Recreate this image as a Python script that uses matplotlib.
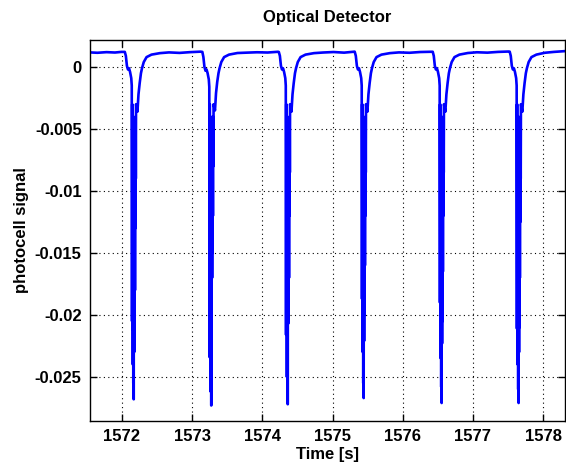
import matplotlib
matplotlib.use("Agg")
import matplotlib.pyplot as plt

# ---- data ----
lead_times = [1571.54, 1571.65, 1571.78, 1571.90, 1571.99]
lead_values = [0.00118, 0.00115, 0.00120, 0.00117, 0.00122]

pulse_centers = [1572.170, 1573.275, 1574.365, 1575.447, 1576.558, 1577.655]

pulse_offsets = [-0.13, -0.115, -0.10, -0.085, -0.07, -0.055, -0.038, -0.031,
                 -0.027, -0.024, -0.021, -0.018, -0.015, -0.012, -0.009, -0.006,
                 -0.003, 0.000, 0.003, 0.006, 0.009, 0.012, 0.015, 0.018,
                 0.021, 0.024, 0.027, 0.030,
                 0.050, 0.065, 0.082, 0.10, 0.115, 0.14, 0.18, 0.25, 0.37,
                 0.50, 0.65, 0.80, 0.95]

pulse1 = [0.00122, 0.0009, 0.0001, -0.0002, -0.0001, -0.0004, -0.0009, -0.0015,
          -0.0205, -0.0030, -0.0212, -0.0050, -0.0240, -0.0040, -0.0255, -0.0070,
          -0.0268, -0.0060, -0.0230, -0.0080, -0.0214, -0.0050, -0.0180, -0.0060,
          -0.0130, -0.0040, -0.0090, -0.0030,
          -0.0036, -0.0022, -0.0013, -0.0005, -0.0001, 0.0004, 0.0008, 0.0010, 0.00112,
          0.00118, 0.00114, 0.00120, 0.00124]
pulse2 = [0.00122, 0.0008, 0.0000, -0.0003, -0.0002, -0.0005, -0.0010, -0.0016,
          -0.0234, -0.0030, -0.0230, -0.0050, -0.0250, -0.0040, -0.0262, -0.0070,
          -0.0273, -0.0060, -0.0178, -0.0080, -0.0170, -0.0050, -0.0150, -0.0060,
          -0.0120, -0.0040, -0.0080, -0.0030,
          -0.0035, -0.0021, -0.0012, -0.0005, -0.0001, 0.0004, 0.0008, 0.0010, 0.00113,
          0.00116, 0.00119, 0.00117, 0.00123]
pulse3 = [0.00121, 0.0009, 0.0001, -0.0002, -0.0001, -0.0004, -0.0009, -0.0015,
          -0.0216, -0.0030, -0.0210, -0.0050, -0.0250, -0.0040, -0.0260, -0.0070,
          -0.0272, -0.0060, -0.0207, -0.0080, -0.0200, -0.0050, -0.0170, -0.0060,
          -0.0120, -0.0040, -0.0085, -0.0030,
          -0.0036, -0.0022, -0.0013, -0.0005, -0.0001, 0.0004, 0.0008, 0.0010, 0.00112,
          0.00117, 0.00121, 0.00116, 0.00124]
pulse4 = [0.00122, 0.0009, 0.0001, -0.0002, -0.0001, -0.0004, -0.0009, -0.0015,
          -0.0187, -0.0030, -0.0185, -0.0050, -0.0230, -0.0040, -0.0255, -0.0070,
          -0.0267, -0.0060, -0.0221, -0.0080, -0.0200, -0.0050, -0.0160, -0.0060,
          -0.0120, -0.0040, -0.0085, -0.0030,
          -0.0036, -0.0022, -0.0013, -0.0005, -0.0001, 0.0004, 0.0008, 0.0010, 0.00112,
          0.00118, 0.00115, 0.00121, 0.00123]
pulse5 = [0.00123, 0.0009, 0.0001, -0.0002, -0.0001, -0.0004, -0.0009, -0.0015,
          -0.0190, -0.0030, -0.0188, -0.0050, -0.0235, -0.0040, -0.0258, -0.0070,
          -0.0271, -0.0060, -0.0223, -0.0080, -0.0205, -0.0050, -0.0165, -0.0060,
          -0.0120, -0.0040, -0.0085, -0.0030,
          -0.0036, -0.0022, -0.0013, -0.0005, -0.0001, 0.0004, 0.0008, 0.0010, 0.00113,
          0.00119, 0.00116, 0.00122, 0.00125]
pulse6 = [0.00124, 0.0009, 0.0001, -0.0002, -0.0001, -0.0004, -0.0009, -0.0015,
          -0.0211, -0.0030, -0.0205, -0.0050, -0.0240, -0.0040, -0.0260, -0.0070,
          -0.0271, -0.0060, -0.0230, -0.0080, -0.0210, -0.0050, -0.0170, -0.0060,
          -0.0125, -0.0040, -0.0090, -0.0030,
          -0.0036, -0.0022, -0.0013, -0.0005, -0.0001, 0.0004, 0.0008, 0.0010, 0.00115,
          0.00122, 0.00128, 0.00130, 0.00132]
pulses = [pulse1, pulse2, pulse3, pulse4, pulse5, pulse6]

x_ticks = [1572, 1573, 1574, 1575, 1576, 1577, 1578]
y_ticks = [0, -0.005, -0.01, -0.015, -0.02, -0.025]
y_tick_labels = ["0", "-0.005", "-0.01", "-0.015", "-0.02", "-0.025"]

# ---- assemble trace ----
time = list(lead_times)
signal = list(lead_values)
for c, vals in zip(pulse_centers, pulses):
    time += [c + o for o in pulse_offsets]
    signal += vals

plt.rcParams['font.family'] = ['Liberation Sans', 'DejaVu Sans']
plt.rcParams['axes.unicode_minus'] = False
plt.rcParams['path.simplify'] = False

fig = plt.figure(figsize=(5.66, 4.63), dpi=100)
ax = fig.add_axes([90/566, 42/463, 475/566, 381/463])

ax.plot(time, signal, color=(0, 0, 1), lw=1.9)

ax.set_xlim(1571.544, 1578.313)
ax.set_ylim(-0.02855, 0.00218)
ax.set_xticks(x_ticks)
ax.set_xticklabels([str(t) for t in x_ticks])
ax.set_yticks(y_ticks)
ax.set_yticklabels(y_tick_labels)

ax.grid(True, color='black', linestyle=(0, (1, 3)), linewidth=0.8)
ax.tick_params(direction='in', top=True, right=True, length=5, width=1,
               labelsize=12, pad=6)
for lbl in ax.get_xticklabels() + ax.get_yticklabels():
    lbl.set_fontweight('bold')
for s in ax.spines.values():
    s.set_linewidth(1.0)
    s.set_color('black')

ax.set_title("Optical Detector", fontsize=12, fontweight='bold', pad=13)
ax.set_xlabel("Time [s]", fontsize=12, fontweight='bold', labelpad=2)
ax.set_ylabel("photocell signal", fontsize=12, fontweight='bold', labelpad=4)

fig.savefig("out.png", dpi=100)
